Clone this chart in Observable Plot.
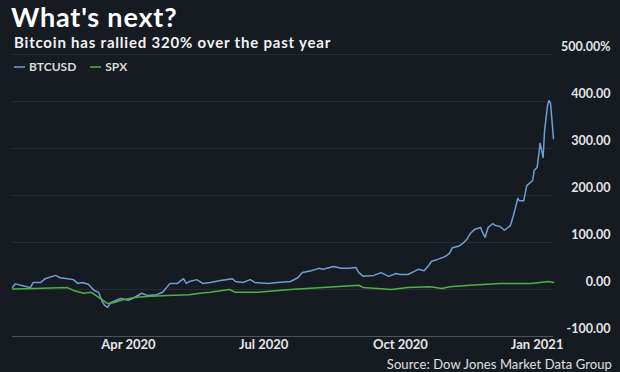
<!DOCTYPE html>
<html>
<head>
<meta charset="utf-8">
<script src="https://cdn.jsdelivr.net/npm/d3@7"></script>
<script src="https://cdn.jsdelivr.net/npm/@observablehq/plot@0.6"></script>
<style>
  html, body { margin: 0; padding: 0; background: #161b22; }
  #wrap { position: relative; width: 620px; height: 372px; background: #161b22; overflow: hidden; font-family: Lato, "Open Sans", sans-serif; }
  #title { position: absolute; left: 11px; top: 0px; font-size: 27px; line-height: normal; letter-spacing: 0.8px; font-weight: 700; color: #ffffff; white-space: nowrap; }
  #subtitle { position: absolute; left: 14px; top: 32.5px; font-size: 15px; line-height: normal; letter-spacing: 0.8px; font-weight: 700; color: #f2f2f2; white-space: nowrap; }
  #legend { position: absolute; left: 14px; top: 59px; font-size: 12px; line-height: 16px; font-weight: 700; color: #d9d9d9; white-space: nowrap; }
  #legend .sw { display: inline-block; width: 11px; height: 2px; vertical-align: middle; margin-right: 4px; position: relative; top: -1px; }
  #legend .item { margin-right: 14px; }
  #chart { position: absolute; left: 0; top: 50px; }
  #source { position: absolute; right: 8px; top: 356px; font-size: 13px; line-height: normal; letter-spacing: 0.1px; color: #e0e0e0; white-space: nowrap; }
</style>
</head>
<body>
<div id="wrap">
  <div id="title">What's next?</div>
  <div id="subtitle">Bitcoin has rallied 320% over the past year</div>
  <div id="chart"></div>
  <div id="legend"></div>
  <div id="source">Source: Dow Jones Market Data Group</div>
</div>
<script>
// Series names and colours
const seriesNames = ["BTCUSD", "SPX"];
const seriesColors = ["#6d9fd6", "#4fb043"];

// BTCUSD, % change since start of window
const btcDates = [
  "2020-01-14","2020-01-16","2020-01-21","2020-01-26","2020-01-28","2020-02-02","2020-02-05","2020-02-12",
  "2020-02-15","2020-02-20","2020-02-24","2020-02-27","2020-03-01","2020-03-05","2020-03-09","2020-03-12",
  "2020-03-14","2020-03-16","2020-03-18","2020-03-20","2020-03-24","2020-03-27","2020-04-01","2020-04-05",
  "2020-04-10","2020-04-14","2020-04-20","2020-04-24","2020-04-29","2020-05-04","2020-05-08","2020-05-10",
  "2020-05-12","2020-05-17","2020-05-21","2020-05-26","2020-06-02","2020-06-10","2020-06-12","2020-06-17",
  "2020-06-22","2020-06-25","2020-07-04","2020-07-10","2020-07-19","2020-07-24","2020-07-27","2020-08-02",
  "2020-08-07","2020-08-10","2020-08-17","2020-08-22","2020-08-27","2020-09-01","2020-09-03","2020-09-06",
  "2020-09-13","2020-09-18","2020-09-23","2020-09-28","2020-10-01","2020-10-06","2020-10-10","2020-10-13",
  "2020-10-17","2020-10-20","2020-10-22","2020-10-26","2020-10-31","2020-11-03","2020-11-05","2020-11-09",
  "2020-11-12","2020-11-15","2020-11-17","2020-11-20","2020-11-24","2020-11-25","2020-11-27","2020-11-29",
  "2020-12-02","2020-12-04","2020-12-07","2020-12-10","2020-12-14","2020-12-16","2020-12-19","2020-12-20",
  "2020-12-23","2020-12-25","2020-12-29","2020-12-30","2021-01-01","2021-01-03","2021-01-05","2021-01-06",
  "2021-01-08","2021-01-09","2021-01-10","2021-01-12"
];
const btcValues = [
  5, 12, 8, 4, 15, 15, 23, 30,
  25, 23, 21, 13, 15, 11, -2, -6,
  -23, -34, -38, -28, -23, -19, -23, -17,
  -8, -13, -11, -6, 13, 13, 23, 13,
  17, 21, 13, 15, 19, 23, 17, 15,
  21, 15, 13, 15, 17, 25, 36, 40,
  45, 43, 49, 45, 45, 47, 36, 28,
  30, 36, 28, 34, 32, 32, 38, 43,
  40, 51, 60, 64, 70, 77, 89, 92,
  98, 108, 119, 128, 132, 123, 111, 132,
  140, 136, 134, 126, 136, 157, 194, 189,
  189, 221, 232, 253, 260, 311, 281, 338,
  392, 402, 396, 321
];

// SPX, % change since start of window
const spxDates = [
  "2020-01-14","2020-01-28","2020-02-20","2020-02-24","2020-03-02","2020-03-07","2020-03-12","2020-03-15",
  "2020-03-18","2020-03-22","2020-03-27","2020-04-05","2020-04-13","2020-04-27","2020-05-12","2020-05-19",
  "2020-05-26","2020-06-08","2020-06-12","2020-06-27","2020-07-19","2020-08-10","2020-09-03","2020-09-06",
  "2020-09-25","2020-10-06","2020-10-21","2020-10-29","2020-11-03","2020-11-17","2020-12-07","2020-12-21",
  "2020-12-28","2021-01-09","2021-01-12"
];
const spxValues = [
  1, 2, 4, -2, -8, -6, -17, -23,
  -30, -28, -23, -17, -15, -13, -11, -8,
  -6, 0, -6, -6, 0, 4, 9, 4,
  0, 4, 6, 2, 6, 9, 13, 13,
  13, 17, 15
];

// Axis ticks
const yTicks = [-100, 0, 100, 200, 300, 400, 500];
const xTicks = ["2020-04-01", "2020-07-01", "2020-10-01", "2021-01-01"];
const xDomain = ["2020-01-14", "2021-01-12"];

const parse = d3.utcParse("%Y-%m-%d");
const data = [
  ...btcDates.map((d, i) => ({date: parse(d), value: btcValues[i], series: seriesNames[0]})),
  ...spxDates.map((d, i) => ({date: parse(d), value: spxValues[i], series: seriesNames[1]}))
];

const chart = Plot.plot({
  width: 620,
  height: 300,
  marginTop: 4,
  marginLeft: 12,
  marginRight: 67,
  marginBottom: 14,
  style: {background: "transparent", color: "#e0e0e0", fontFamily: "Lato, 'Open Sans', sans-serif", overflow: "visible"},
  x: {type: "utc", domain: xDomain.map(parse)},
  y: {domain: [-100, 500]},
  color: {domain: seriesNames, range: seriesColors},
  marks: [
    Plot.gridY(yTicks, {stroke: "#262c34", strokeOpacity: 1, strokeWidth: 1}),
    Plot.ruleY([-100], {stroke: "#4e545c", strokeWidth: 1}),
    Plot.axisY(yTicks, {
      anchor: "right", tickSize: 0, tickPadding: 0, textAnchor: "end", dx: 57, dy: -7.5,
      fontSize: 12.5, fontWeight: "bold", fill: "#e4e4e4",
      tickFormat: d => d === 500 ? "500.00%" : d.toFixed(2),
      label: null
    }),
    Plot.axisX(xTicks.map(parse), {
      tickSize: 0, tickPadding: 3, fontSize: 13, fontWeight: "bold", fill: "#e6e6e6",
      tickFormat: d3.utcFormat("%b %Y"), label: null
    }),
    Plot.line(data, {x: "date", y: "value", z: "series", stroke: "series", strokeWidth: 1.5, curve: "linear"})
  ]
});
document.getElementById("chart").appendChild(chart);

// Legend
const legend = document.getElementById("legend");
seriesNames.forEach((name, i) => {
  const item = document.createElement("span");
  item.className = "item";
  const sw = document.createElement("span");
  sw.className = "sw";
  sw.style.background = seriesColors[i];
  sw.style.opacity = "0.75";
  item.appendChild(sw);
  item.appendChild(document.createTextNode(name));
  legend.appendChild(item);
});
</script>
</body>
</html>
